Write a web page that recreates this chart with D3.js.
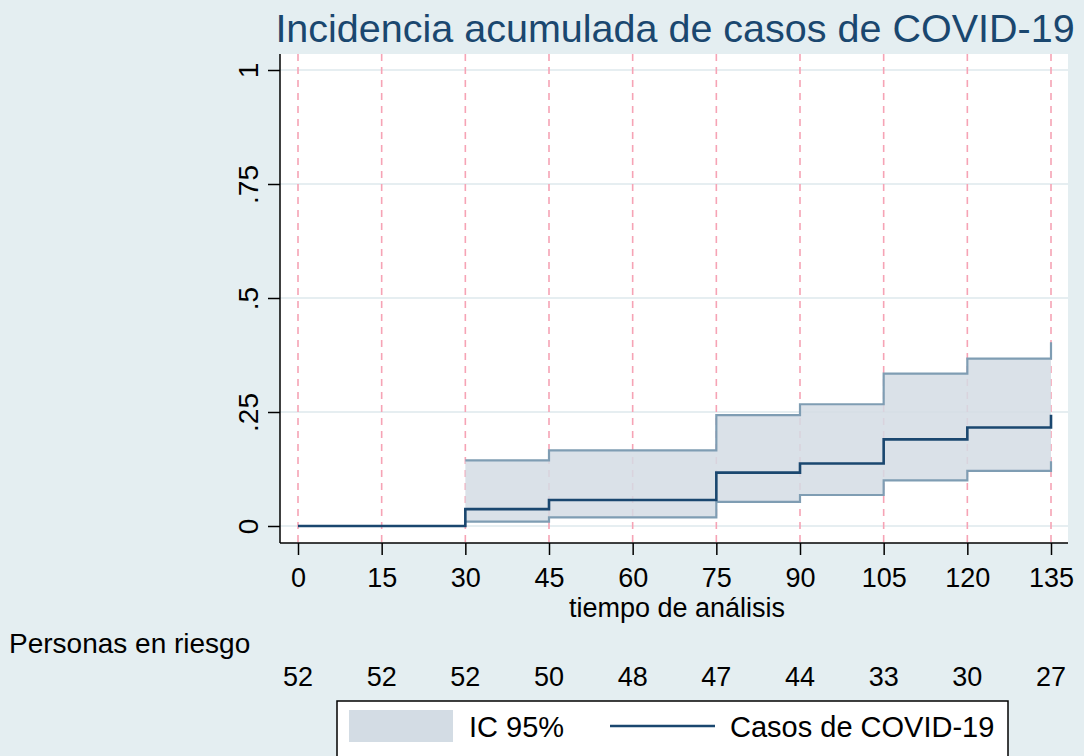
<!DOCTYPE html>
<html>
<head>
<meta charset="utf-8">
<script src="https://cdn.jsdelivr.net/npm/d3@7"></script>
<style>
  html, body { margin: 0; padding: 0; background: #e4eef1; }
  svg { display: block; font-family: "Liberation Sans", Arial, sans-serif; }
</style>
</head>
<body>
<svg id="chart" width="1084" height="756"></svg>
<script>
// step times and estimates
var times = [0, 30, 45, 75, 90, 105, 120, 135];
var incidence = [0, 0.037, 0.057, 0.117, 0.137, 0.19, 0.216, 0.244];
var ciTimes = [30, 45, 75, 90, 105, 120, 135];
var ciLower = [0.0095, 0.019, 0.053, 0.068, 0.10, 0.121, 0.142];
var ciUpper = [0.144, 0.166, 0.243, 0.267, 0.334, 0.367, 0.403];

var xTicks = [0, 15, 30, 45, 60, 75, 90, 105, 120, 135];
var atRisk = [52, 52, 52, 50, 48, 47, 44, 33, 30, 27];
var yTicks = [0, 0.25, 0.5, 0.75, 1];
var yTickLabels = ["0", ".25", ".5", ".75", "1"];

var svg = d3.select("#chart");
var navy = "#1a476f";

var plot = { left: 280, right: 1068, top: 54, bottom: 543 };

var x = d3.scaleLinear().domain([0, 135]).range([298, 1051]);
var y = d3.scaleLinear().domain([0, 1]).range([526, 70]);

svg.append("rect")
	.attr("x", plot.left).attr("y", plot.top)
	.attr("width", plot.right - plot.left)
	.attr("height", plot.bottom - plot.top)
	.attr("fill", "#ffffff");

// horizontal grid
svg.append("g").selectAll("line")
	.data(yTicks)
	.enter()
  .append("line")
	.attr("x1", plot.left).attr("x2", plot.right)
	.attr("y1", function (d) { return y(d); })
	.attr("y2", function (d) { return y(d); })
	.attr("stroke", "#e6eef1")
	.attr("stroke-width", 2);

// dashed reference lines at each tick
svg.append("g").selectAll("line")
	.data(xTicks)
	.enter()
  .append("line")
	.attr("x1", function (d) { return x(d); })
	.attr("x2", function (d) { return x(d); })
	.attr("y1", plot.top).attr("y2", plot.bottom)
	.attr("stroke", "#f6a3b5")
	.attr("stroke-width", 1.6)
	.attr("stroke-dasharray", "7,6");

var ci = ciTimes.map(function (t, i) { return { t: t, lo: ciLower[i], hi: ciUpper[i] }; });
var est = times.map(function (t, i) { return { t: t, v: incidence[i] }; });

svg.append("path")
	.datum(ci)
	.attr("d", d3.area().curve(d3.curveStepAfter)
		.x(function (d) { return x(d.t); })
		.y0(function (d) { return y(d.lo); })
		.y1(function (d) { return y(d.hi); }))
	.attr("fill", "#d3dce4")
	.attr("opacity", 0.85);

["lo", "hi"].forEach(function (k) {
	svg.append("path")
		.datum(ci)
		.attr("d", d3.line().curve(d3.curveStepAfter)
			.x(function (d) { return x(d.t); })
			.y(function (d) { return y(d[k]); }))
		.attr("fill", "none")
		.attr("stroke", "#7f9db3")
		.attr("stroke-width", 2.2);
});

svg.append("path")
	.datum(est)
	.attr("d", d3.line().curve(d3.curveStepAfter)
		.x(function (d) { return x(d.t); })
		.y(function (d) { return y(d.v); }))
	.attr("fill", "none")
	.attr("stroke", navy)
	.attr("stroke-width", 2.6);

// axes
var yAxis = d3.axisLeft(y).tickValues(yTicks).tickSize(12)
	.tickFormat(function (d, i) { return yTickLabels[i]; });
var gy = svg.append("g").attr("transform", "translate(" + plot.left + ",0)").call(yAxis);
gy.select(".domain").attr("d", "M0," + plot.top + "V" + plot.bottom).attr("stroke", "#000").attr("stroke-width", 1.5);
gy.selectAll(".tick line").attr("stroke", "#000").attr("stroke-width", 1.5);
gy.selectAll(".tick text")
	.attr("font-size", 28).attr("fill", "#000")
	.attr("x", null)
	.attr("text-anchor", "middle")
	.attr("transform", "translate(-22,0) rotate(-90)")
	.attr("dy", "0em");

var xAxis = d3.axisBottom(x).tickValues(xTicks).tickSize(12).tickPadding(13);
var gx = svg.append("g").attr("transform", "translate(0," + plot.bottom + ")").call(xAxis);
gx.select(".domain").attr("d", "M" + plot.left + ",0H" + plot.right).attr("stroke", "#000").attr("stroke-width", 1.5);
gx.selectAll(".tick line").attr("stroke", "#000").attr("stroke-width", 1.5);
gx.selectAll(".tick text").attr("font-size", 27).attr("fill", "#000");

svg.append("text")
	.attr("x", 677).attr("y", 617)
	.attr("text-anchor", "middle")
	.attr("font-size", 27)
	.text("tiempo de análisis");

svg.append("text")
	.attr("x", 675).attr("y", 42)
	.attr("text-anchor", "middle")
	.attr("font-size", 39.5)
	.attr("fill", navy)
	.text("Incidencia acumulada de casos de COVID-19");

svg.append("text")
	.attr("x", 9).attr("y", 653)
	.attr("font-size", 28)
	.text("Personas en riesgo");

svg.append("g").selectAll("text")
	.data(atRisk)
	.enter()
  .append("text")
	.attr("x", function (d, i) { return x(xTicks[i]); })
	.attr("y", 686)
	.attr("text-anchor", "middle")
	.attr("font-size", 27)
	.text(function (d) { return d; });

// legend
var lg = svg.append("g");
lg.append("rect")
	.attr("x", 337).attr("y", 701).attr("width", 671).attr("height", 60)
	.attr("fill", "#fff").attr("stroke", "#000").attr("stroke-width", 1.5);
lg.append("rect")
	.attr("x", 349).attr("y", 710).attr("width", 104).attr("height", 32)
	.attr("fill", "#d3dce4");
lg.append("text")
	.attr("x", 469).attr("y", 737).attr("font-size", 29)
	.text("IC 95%");
lg.append("line")
	.attr("x1", 610).attr("x2", 715).attr("y1", 726).attr("y2", 726)
	.attr("stroke", navy).attr("stroke-width", 2.6);
lg.append("text")
	.attr("x", 730).attr("y", 737).attr("font-size", 29)
	.text("Casos de COVID-19");
</script>
</body>
</html>
